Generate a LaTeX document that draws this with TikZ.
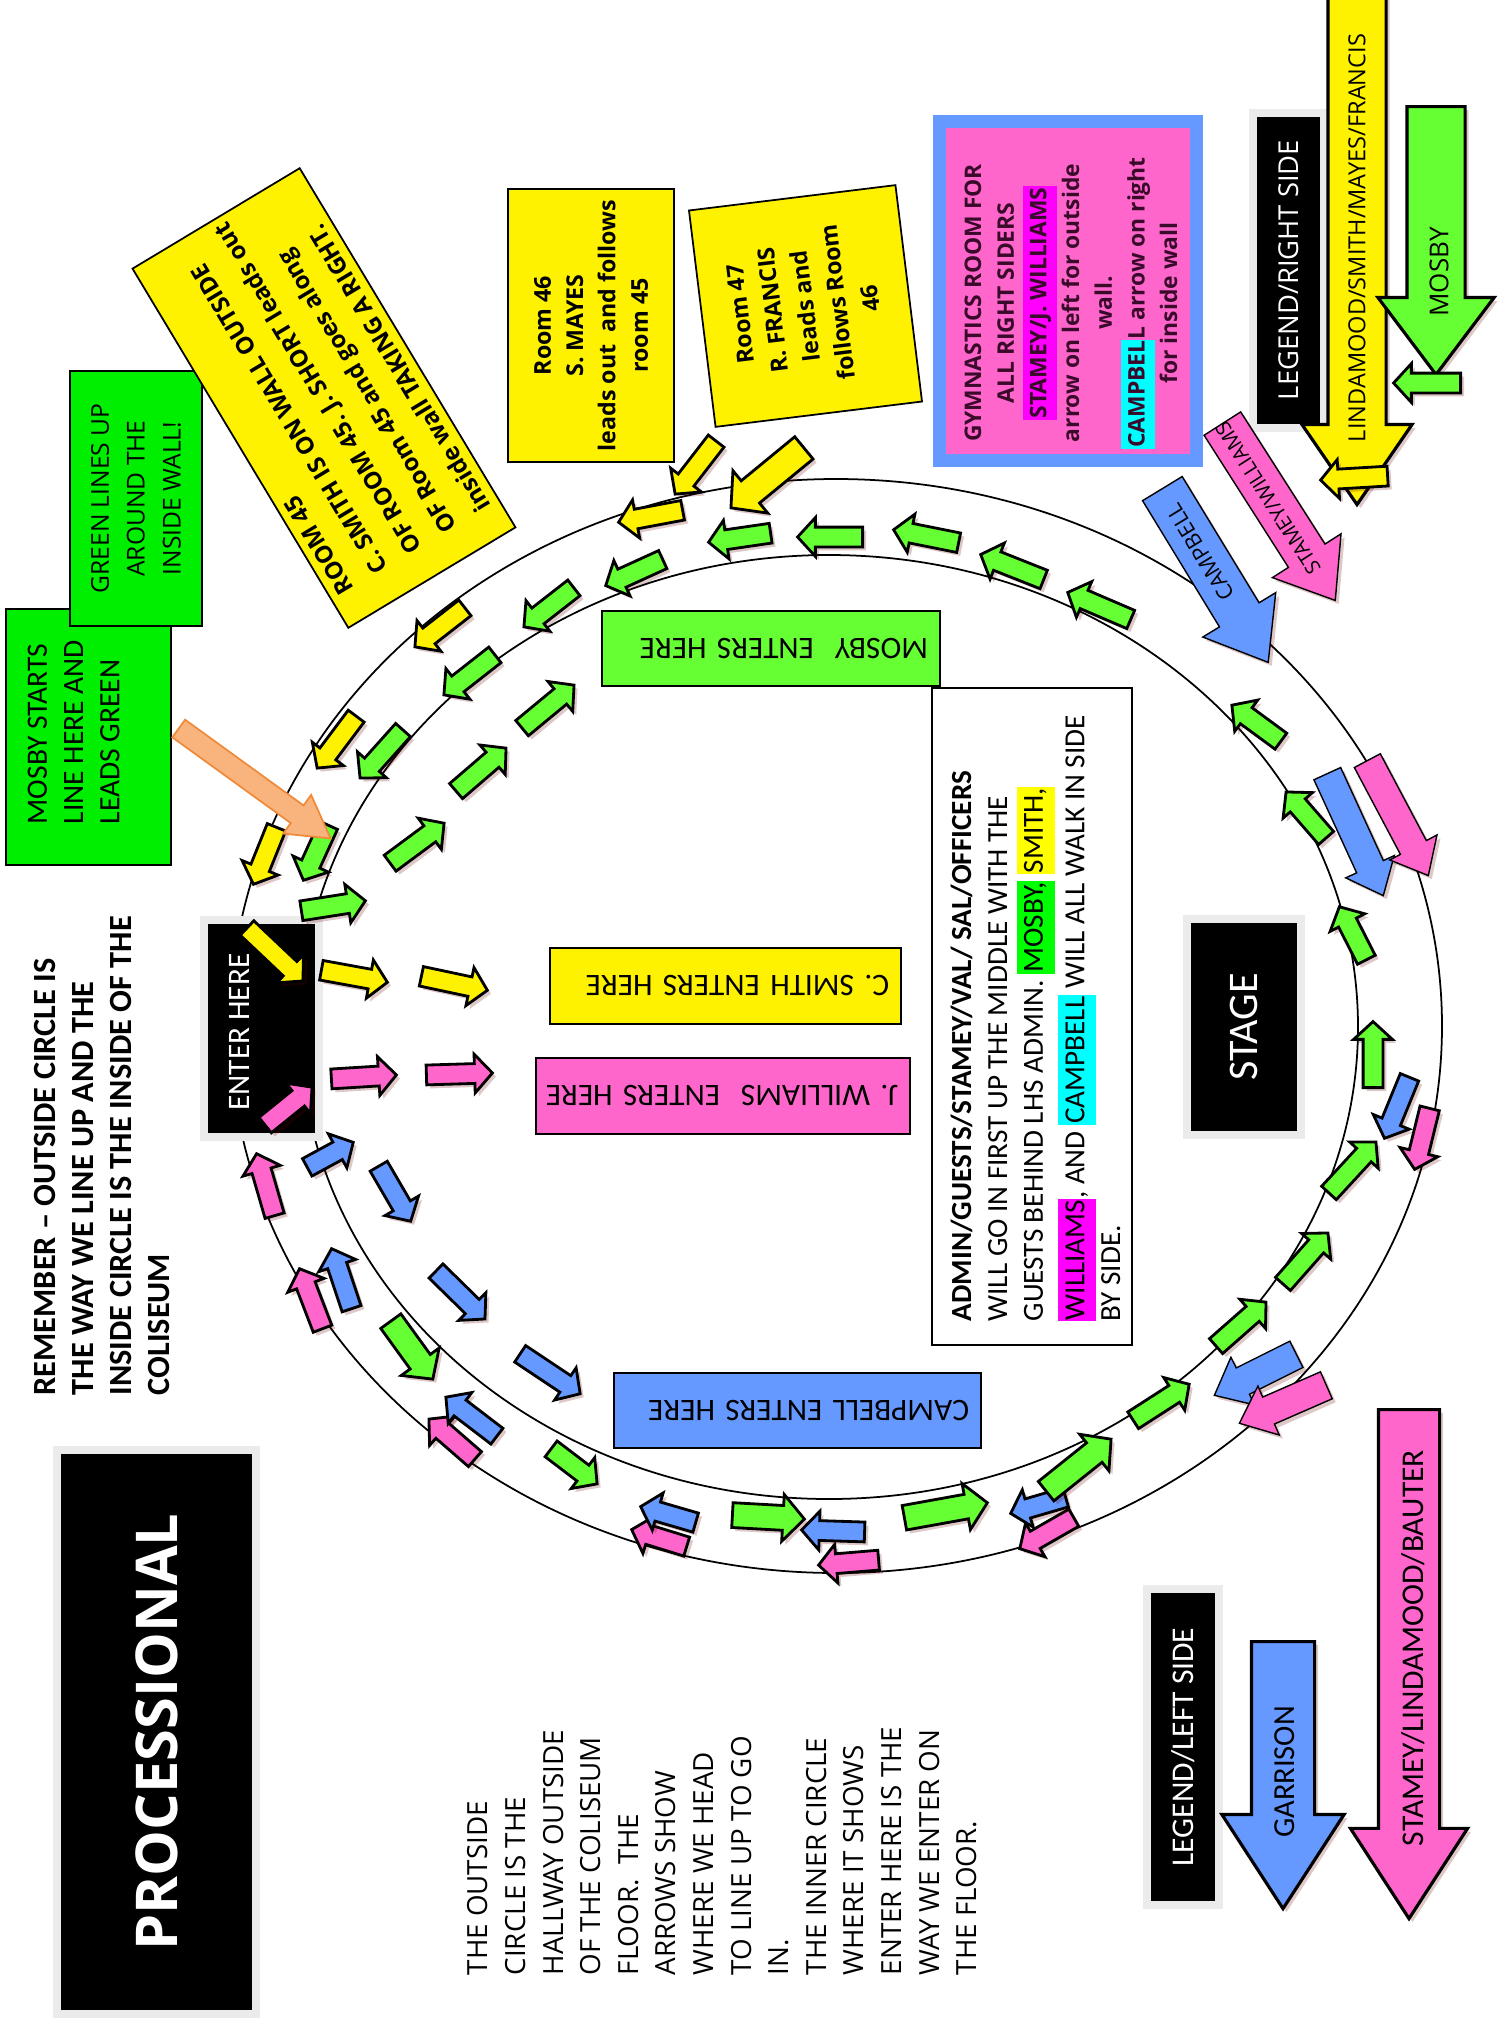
\documentclass[tikz,border=0pt]{standalone}
\usepackage{fontspec}
\setmainfont{Open Sans}
\newfontfamily\narrow{Carlito}
\usetikzlibrary{shapes.arrows,calc,shadows}

\definecolor{boxgreen}{HTML}{00EE00}
\definecolor{arrowgreen}{HTML}{66FF33}
\definecolor{hotpink}{HTML}{FF66CC}
\definecolor{skyblue}{HTML}{6699FF}
\definecolor{gymink}{HTML}{3A0A2A}
\definecolor{framegray}{HTML}{EBEBEB}
\definecolor{orangefill}{HTML}{F9B47E}
\definecolor{orangeline}{HTML}{EE8A3A}
\definecolor{hlmagenta}{RGB}{255,0,255}
\definecolor{hlcyan}{RGB}{0,255,255}
\definecolor{hlgreen}{RGB}{0,255,0}
\definecolor{hlyellow}{RGB}{255,255,0}

\newcommand\fs[2]{\fontsize{#1}{#2}\selectfont}
\newcommand\hl[2]{{\setlength{\fboxsep}{0.3pt}\colorbox{#1}{\strut #2}}}

\tikzset{
  vtext/.style={rotate=90,inner sep=0pt,align=left,anchor=north west},
  blackbox/.style={rotate=90,fill=black,draw=framegray,line width=0.8mm,text=white,inner sep=0pt},
  flatbox/.style={draw=black,line width=0.5pt,inner sep=0pt},
  enterbox/.style={flatbox,rotate=180,align=left,inner xsep=1.2mm,font=\narrow\fs{8.9}{10}},
  glow/.style={drop shadow={shadow xshift=0.35mm,shadow yshift=-0.35mm,opacity=0.22,fill=red!40!black}},
  ringarrow/.style={single arrow,draw=black,line width=0.8pt,inner xsep=0pt,inner ysep=0.85mm,
    minimum width=3.6mm,single arrow head extend=0.95mm,single arrow tip angle=95,glow},
  bigring/.style={ringarrow,inner ysep=1.1mm,minimum width=4.4mm,single arrow head extend=1.1mm},
  thinarrow/.style={single arrow,draw=black,line width=0.4pt,inner xsep=0pt,inner ysep=1.4mm,
    minimum width=5.2mm,single arrow head extend=1.2mm,single arrow tip angle=80,glow},
  legendarrow/.style={single arrow,draw=black,line width=0.9pt,inner xsep=0pt,rotate=-90,anchor=tail,glow}
}

\begin{document}
\begin{tikzpicture}[x=0.1mm,y=-0.1mm]
\useasboundingbox (0,0) rectangle (1502,2018);
%%% the two walls
\draw[line width=0.5pt] (836,1026) ellipse [x radius=60.6mm,y radius=54.7mm];
\draw[line width=0.5pt] (829,1027) ellipse [x radius=52.9mm,y radius=47.2mm];
%%% left margin
\node[blackbox,minimum width=56.4mm,minimum height=19.9mm,font=\bfseries\fs{16.4}{20}] (title) at (156.5,1732) {PROCESSIONAL};
\node[vtext,font=\narrow\bfseries\fs{9.2}{10.8}] (remember) at (34,1396) {REMEMBER – OUTSIDE CIRCLE IS\\THE WAY WE LINE UP AND THE\\INSIDE CIRCLE IS THE INSIDE OF THE\\COLISEUM};
\node[flatbox,fill=boxgreen,minimum width=16.5mm,minimum height=25.6mm] (mosbystart) at (88.5,737) {};
\node[vtext,font=\narrow\fs{8.4}{10.3}] (mosbystarttext) at (27,825) {MOSBY STARTS\\LINE HERE AND\\LEADS GREEN};
\node[flatbox,fill=boxgreen,rotate=90,minimum width=25.5mm,minimum height=13.2mm,align=center,font=\fs{7}{10.2}] (greenlines) at (136,498.5) {GREEN LINES UP\\AROUND THE\\INSIDE WALL!};
\node[vtext,font=\fs{7.9}{10.7}] (note) at (467,1976) {THE OUTSIDE\\CIRCLE IS THE\\HALLWAY OUTSIDE\\OF THE COLISEUM\\FLOOR.\ \ THE\\ARROWS SHOW\\WHERE WE HEAD\\TO LINE UP TO GO\\IN.\\THE INNER CIRCLE\\WHERE IT SHOWS\\ENTER HERE IS THE\\WAY WE ENTER ON\\THE FLOOR.};
%%% rooms
\node[flatbox,fill=yellow,rotate=121,minimum width=41.9mm,minimum height=19.5mm] (room45) at (324,398) {};
\node[rotate=121,anchor=west,align=left,inner sep=0pt,font=\bfseries\fs{6.8}{11.4}] (room45text) at (416,552) {ROOM 45\\C. SMITH IS ON WALL OUTSIDE\\OF ROOM 45. J. SHORT leads out\\OF Room 45 and goes along\\inside wall TAKING A RIGHT.};
\node[flatbox,fill=yellow,rotate=90,minimum width=27.3mm,minimum height=16.6mm,align=center,font=\bfseries\fs{6.6}{9.2}] (room46) at (591,325.5) {Room 46\\S. MAYES\\leads out\ \ and follows\\room 45};
\node[flatbox,fill=yellow,rotate=97,minimum width=21.8mm,minimum height=20.8mm,align=center,font=\bfseries\fs{6.6}{9.3}] (room47) at (805.5,306) {Room 47\\R. FRANCIS\\leads and\\follows Room\\46};
\node[rotate=90,fill=hotpink,draw=skyblue,line width=1.3mm,minimum width=33.9mm,minimum height=25.7mm] (gymbox) at (1068,291) {};
\node[rotate=90,align=center,inner sep=0pt,text=gymink,font=\bfseries\fs{6.5}{9.3}] (gymtext) at (1071,303) {GYMNASTICS ROOM FOR\\ALL RIGHT SIDERS\\\hl{hlmagenta}{STAMEY/J. WILLIAMS}\\arrow on left for outside\\wall.\\\hl{hlcyan}{CAMPBEL}L arrow on right\\for inside wall};
%%% legends
\node[blackbox,minimum width=31.5mm,minimum height=7.1mm,font=\fs{7.8}{9}] (legendright) at (1288.5,270) {LEGEND/RIGHT SIDE};
\node[legendarrow,fill=yellow,inner ysep=2.75mm,minimum height=51.3mm,minimum width=10.7mm,single arrow head extend=2.6mm,single arrow tip angle=69] (rightyellow) at (1357,-10) {};
\node[rotate=90,font=\fs{6.7}{8}] (rightyellowtext) at (1357,238) {LINDAMOOD/SMITH/MAYES/FRANCIS};
\node[legendarrow,fill=arrowgreen,inner ysep=2.75mm,minimum height=26.8mm,minimum width=11.3mm,single arrow head extend=2.9mm,single arrow tip angle=74] (rightgreen) at (1436,105) {};
\node[rotate=90,font=\fs{7.4}{8}] (rightgreentext) at (1439,272) {MOSBY};
\node[blackbox,minimum width=31.6mm,minimum height=7.2mm,font=\narrow\fs{9}{10}] (legendleft) at (1183,1747) {LEGEND/LEFT SIDE};
\node[legendarrow,fill=skyblue,inner ysep=3mm,minimum height=26.7mm,minimum width=11.9mm,single arrow head extend=2.95mm,single arrow tip angle=66] (leftblue) at (1283,1640) {};
\node[rotate=90,font=\narrow\fs{8.7}{10}] (leftbluetext) at (1285,1772) {GARRISON};
\node[legendarrow,fill=hotpink,inner ysep=2.9mm,minimum height=50.9mm,minimum width=11.4mm,single arrow head extend=2.8mm,single arrow tip angle=66] (leftpink) at (1409,1408) {};
\node[rotate=90,font=\narrow\fs{9}{10}] (leftpinktext) at (1413,1648) {STAMEY/LINDAMOOD/BAUTER};
%%% floor
\node[blackbox,minimum width=21.7mm,minimum height=11.5mm] (enter) at (261.5,1028.5) {};
\node[rotate=90,text=white,font=\narrow\fs{8.9}{10}] (entertext) at (239,1032) {ENTER HERE};
\node[enterbox,fill=arrowgreen,text width=31.4mm,minimum height=7.5mm] (mosbyenter) at (771,648.5) {\mbox{MOSBY\ \ ENTERS HERE}};
\node[enterbox,fill=yellow,text width=32.7mm,minimum height=7.6mm] (smithenter) at (725.5,986) {\mbox{C. SMITH ENTERS HERE}};
\node[enterbox,fill=hotpink,text width=35mm,minimum height=7.6mm] (williamsenter) at (723,1096) {\mbox{J. WILLIAMS\ \ ENTERS HERE}};
\node[enterbox,fill=skyblue,text width=34.3mm,minimum height=7.5mm] (campbellenter) at (797.5,1410.5) {\mbox{CAMPBELL ENTERS HERE}};
\node[flatbox,fill=white,minimum width=20mm,minimum height=65.7mm] (adminbox) at (1032,1016.5) {};
\node[vtext,font=\narrow\fs{8.3}{10.2}] (admintext) at (950,1322) {\textbf{ADMIN/GUESTS/STAMEY/VAL/ SAL/OFFICERS}\\WILL GO IN FIRST UP THE MIDDLE WITH THE\\GUESTS BEHIND LHS ADMIN. \hl{hlgreen}{MOSBY,} \hl{hlyellow}{SMITH,}\\\hl{hlmagenta}{WILLIAMS}, AND \hl{hlcyan}{CAMPBELL} WILL ALL WALK IN SIDE\\BY SIDE.};
\node[blackbox,minimum width=21.6mm,minimum height=11.4mm,font=\narrow\fs{12}{14}] (stage) at (1244,1027) {STAGE};
%%% small arrows round the walls
\foreach \ax/\ay/\bx/\by/\c [count=\i] in {
  1132/620/1069/593/arrowgreen, 1045/580/982/555/arrowgreen, 960/543/895/530/arrowgreen,
  864/537/799/537/arrowgreen, 772/533/710/542/arrowgreen, 664/559/607/585/arrowgreen,
  575/587/525/626/arrowgreen, 496/654/445/694/arrowgreen, 404/729/361/777/arrowgreen,
  329/824/304/879/arrowgreen, 300/911/364/901/arrowgreen, 389/864/443/824/arrowgreen,
  455/792/505/749/arrowgreen, 521/729/573/686/arrowgreen, 550/1448/596/1483/arrowgreen,
  1132/1421/1188/1385/arrowgreen, 1215/1347/1265/1303/arrowgreen, 1282/1285/1327/1234/arrowgreen,
  1328/1194/1375/1143/arrowgreen, 1373/1089/1373/1023/arrowgreen, 1367/961/1340/908/arrowgreen,
  1327/839/1287/793/arrowgreen, 1282/742/1233/706/arrowgreen, 1462/383/1395/383/arrowgreen,
  684/510/620/522/yellow, 466/607/416/646/yellow, 357/715/318/767/yellow, 277/826/254/883/yellow,
  320/970/386/982/yellow, 420/976/486/990/yellow, 246/927/302/980/yellow, 717/440/676/493/yellow,
  1389/476/1322/480/yellow,
  264/1126/311/1088/hotpink, 330/1079/395/1075/hotpink, 425/1075/491/1073/hotpink,
  275/1217/257/1155/hotpink, 323/1330/300/1270/hotpink, 476/1460/430/1420/hotpink,
  688/1547/633/1530/hotpink, 880/1560/820/1565/hotpink, 1075/1517/1021/1548/hotpink,
  1430/1107/1415/1168/hotpink,
  306/1168/352/1143/skyblue, 378/1165/410/1220/skyblue, 352/1310/332/1250/skyblue,
  435/1270/484/1318/skyblue, 519/1353/579/1393/skyblue, 498/1437/447/1398/skyblue,
  697/1523/642/1507/skyblue, 866/1532/803/1530/skyblue, 1067/1497/1012/1513/skyblue,
  1410/1076/1385/1137/skyblue}
  \path let \p1=(\ax,\ay),\p2=(\bx,\by),\n1={atan2(\y2-\y1,\x2-\x1)},\n2={veclen(\x2-\x1,\y2-\y1)} in
    node[ringarrow,fill=\c,rotate=\n1,minimum height=\n2,anchor=tail] (ring\i) at (\p1) {};
\foreach \ax/\ay/\bx/\by/\c [count=\i] in {
  390/1320/432/1378/arrowgreen, 731/1515/803/1519/arrowgreen, 903/1518/986/1503/arrowgreen,
  1045/1492/1110/1440/arrowgreen}
  \path let \p1=(\ax,\ay),\p2=(\bx,\by),\n1={atan2(\y2-\y1,\x2-\x1)},\n2={veclen(\x2-\x1,\y2-\y1)} in
    node[bigring,fill=\c,rotate=\n1,minimum height=\n2,anchor=tail] (wide\i) at (\p1) {};
\foreach \ax/\ay/\bx/\by/\c [count=\i] in {
  1327/773/1383/895/skyblue, 1367/760/1428/875/hotpink,
  1297/1354/1215/1395/skyblue, 1327/1385/1240/1423/hotpink}
  \path let \p1=(\ax,\ay),\p2=(\bx,\by),\n1={atan2(\y2-\y1,\x2-\x1)},\n2={veclen(\x2-\x1,\y2-\y1)} in
    node[thinarrow,fill=\c,rotate=\n1,minimum height=\n2,anchor=tail] (thin\i) at (\p1) {};
%%% room 47 feeder, gym arrows, pointer
\path let \p1=(805,447),\p2=(732,507),\n1={atan2(\y2-\y1,\x2-\x1)},\n2={veclen(\x2-\x1,\y2-\y1)} in
  node[ringarrow,fill=yellow,inner ysep=1.3mm,minimum width=5.2mm,single arrow head extend=1.3mm,rotate=\n1,minimum height=\n2,anchor=tail] (room47arrow) at (\p1) {};
\path let \p1=(1162,488),\p2=(1268,662),\n1={atan2(\y2-\y1,\x2-\x1)},\n2={veclen(\x2-\x1,\y2-\y1)} in
  node[thinarrow,fill=skyblue,inner ysep=2.25mm,minimum width=8.4mm,single arrow head extend=1.95mm,single arrow tip angle=75,rotate=\n1,minimum height=\n2,anchor=tail] (campbellarrow) at (\p1) {};
\node[rotate=121.4,font=\fs{6.2}{7}] (campbelltext) at (1200,552) {CAMPBELL};
\path let \p1=(1222,423),\p2=(1335,600),\n1={atan2(\y2-\y1,\x2-\x1)},\n2={veclen(\x2-\x1,\y2-\y1)} in
  node[thinarrow,fill=hotpink,inner ysep=2.1mm,minimum width=8mm,single arrow head extend=1.9mm,single arrow tip angle=75,rotate=\n1,minimum height=\n2,anchor=tail] (stameyarrow) at (\p1) {};
\node[rotate=122.6,font=\fs{5.8}{7}] (stameytext) at (1268,498) {STAMEY/WILLIAMS};
\path let \p1=(178,728),\p2=(330,838),\n1={atan2(\y2-\y1,\x2-\x1)},\n2={veclen(\x2-\x1,\y2-\y1)} in
  node[single arrow,fill=orangefill,draw=orangeline,line width=0.5pt,inner xsep=0pt,inner ysep=1mm,minimum width=4.6mm,single arrow head extend=1.3mm,single arrow tip angle=60,rotate=\n1,minimum height=\n2,anchor=tail] (pointer) at (\p1) {};
\end{tikzpicture}
\end{document}
